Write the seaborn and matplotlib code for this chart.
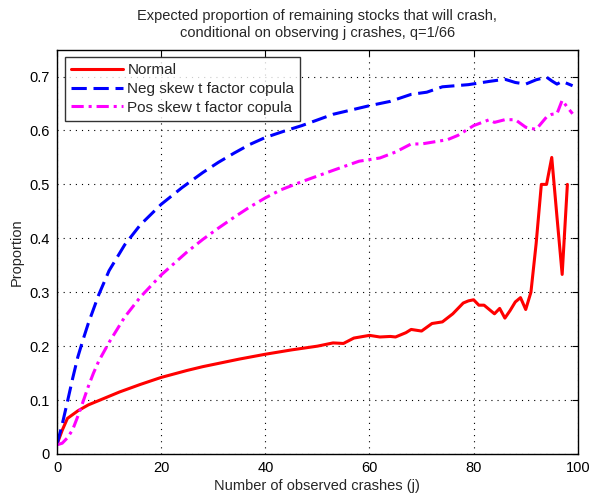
import numpy as np
import pandas as pd
import matplotlib
matplotlib.use("Agg")
import matplotlib.pyplot as plt
import seaborn as sns

# ---- data ----
normal_j = [0, 1, 2, 4, 6, 9, 12, 16, 20, 25, 28, 30, 35, 40, 45, 50, 53, 55, 57, 60,
            62, 64, 65, 67, 68, 70, 72, 74, 76, 78, 79, 80, 81, 82, 84, 85, 86, 87, 88,
            89, 90, 91, 92, 93, 94, 95, 96, 97, 98]
normal_v = [0.018, 0.044, 0.066, 0.080, 0.091, 0.103, 0.115, 0.129, 0.142, 0.155, 0.162,
            0.166, 0.176, 0.185, 0.193, 0.200, 0.206, 0.205, 0.215, 0.220,
            0.217, 0.218, 0.217, 0.225, 0.231, 0.228, 0.242, 0.245, 0.260, 0.280, 0.284,
            0.286, 0.276, 0.276, 0.260, 0.270, 0.252, 0.266, 0.282,
            0.290, 0.268, 0.300, 0.390, 0.500, 0.500, 0.550, 0.440, 0.333, 0.500]

neg_j = [0, 1, 2, 3, 4, 5, 6, 8, 10, 13, 16, 20, 24, 28, 31, 34, 37, 40, 44, 47, 53, 60,
         64, 68, 71, 74, 79, 83, 86, 88, 90, 92, 94, 95, 96, 97, 99]
neg_v = [0.018, 0.055, 0.097, 0.140, 0.180, 0.212, 0.242, 0.295, 0.340, 0.388, 0.425,
         0.463, 0.494, 0.522, 0.541, 0.558, 0.574, 0.587, 0.600, 0.609, 0.630, 0.646,
         0.654, 0.667, 0.671, 0.681, 0.685, 0.691, 0.695, 0.689, 0.686, 0.694, 0.699,
         0.692, 0.686, 0.691, 0.683]

pos_j = [0, 1, 2, 3, 4, 5, 6, 7, 8, 10, 13, 16, 20, 25, 28, 31, 34, 37, 40, 43, 47, 53,
         58, 62, 65, 68, 70, 75, 77, 80, 83, 84, 86, 88, 90, 92, 94, 95, 96, 97, 98, 99]
pos_v = [0.017, 0.020, 0.030, 0.045, 0.070, 0.097, 0.125, 0.150, 0.172, 0.207, 0.254,
         0.291, 0.332, 0.375, 0.398, 0.419, 0.439, 0.458, 0.475, 0.490, 0.505, 0.526,
         0.543, 0.549, 0.560, 0.575, 0.575, 0.583, 0.591, 0.609, 0.620, 0.615, 0.620,
         0.620, 0.606, 0.602, 0.625, 0.630, 0.631, 0.656, 0.643, 0.631]

labels = ["Normal", "Neg skew t factor copula", "Pos skew t factor copula"]
title = "Expected proportion of remaining stocks that will crash,\nconditional on observing j crashes, q=1/66"
x_label = "Number of observed crashes (j)"
y_label = "Proportion"
x_ticks = [0, 20, 40, 60, 80, 100]
y_ticks = [0, 0.1, 0.2, 0.3, 0.4, 0.5, 0.6, 0.7]

df = pd.concat([
    pd.DataFrame({"j": normal_j, "p": normal_v, "series": labels[0]}),
    pd.DataFrame({"j": neg_j, "p": neg_v, "series": labels[1]}),
    pd.DataFrame({"j": pos_j, "p": pos_v, "series": labels[2]}),
])

sns.set_style("white")
plt.rcParams["font.family"] = ["Liberation Sans", "DejaVu Sans"]

fig = plt.figure(figsize=(5.92, 4.96), dpi=100)
ax = fig.add_axes([0.0963, 0.0847, 0.8797, 0.8153])

palette = {labels[0]: "#ff0000", labels[1]: "#0000ff", labels[2]: "#ff00ff"}
dashes = {labels[0]: "", labels[1]: (5, 2.2), labels[2]: (4, 1.6, 1, 1.6)}
sns.lineplot(data=df, x="j", y="p", hue="series", style="series",
             palette=palette, dashes=dashes, linewidth=2.2, ax=ax,
             sort=False, estimator=None)

ax.set_xlim(0, 100)
ax.set_ylim(0, 0.75)
ax.set_xticks(x_ticks)
ax.set_xticklabels([str(t) for t in x_ticks])
ax.set_yticks(y_ticks)
ax.set_yticklabels(["0"] + [f"{t:.1f}" for t in y_ticks[1:]])
ax.grid(True, linestyle=(0, (1, 4.5)), color="black", linewidth=0.8)
ax.tick_params(direction="in", length=4, width=0.8, top=True, right=True,
               labelsize=10.5, colors="black", pad=5)
for s in ax.spines.values():
    s.set_color("black")
    s.set_linewidth(1.0)

ax.set_xlabel(x_label, fontsize=10.5, labelpad=3)
ax.set_ylabel(y_label, fontsize=10.5, labelpad=4)
ax.set_title(title, fontsize=10.5, pad=9, linespacing=1.3)

leg = ax.legend(loc="upper left", fontsize=11, handlelength=3.4,
                frameon=True, fancybox=False, edgecolor="black",
                borderaxespad=0.5, labelspacing=0.3, handletextpad=0.3,
                borderpad=0.4)
leg.get_frame().set_linewidth(1.0)

fig.savefig("out.png", dpi=100, facecolor="white")
